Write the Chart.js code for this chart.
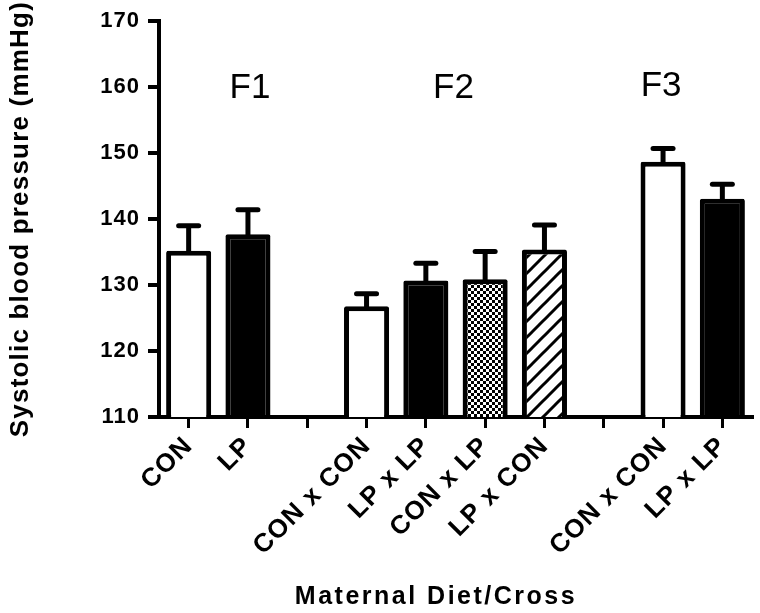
<!DOCTYPE html>
<html>
<head>
<meta charset="utf-8">
<script src="https://cdn.jsdelivr.net/npm/chart.js@4.4.1/dist/chart.umd.min.js"></script>
<style>
  html, body { margin: 0; padding: 0; background: #fff; }
  #wrap { width: 760px; height: 613px; }
</style>
</head>
<body>
<div id="wrap"><canvas id="bpChart" width="760" height="613"></canvas></div>
<script>
// categories (empty strings are the gaps between generations)
var labels = ['CON', 'LP', '', 'CON x CON', 'LP x LP', 'CON x LP', 'LP x CON', '', 'CON x CON', 'LP x LP'];
// mean systolic BP (mmHg) and SEM
var meanBP = [135.2, 137.7, null, 126.8, 130.7, 130.9, 135.4, null, 148.7, 143.1];
var semBP  = [3.8, 3.7, null, 1.9, 2.6, 4.2, 3.7, null, 2.0, 2.2];
var fills  = ['white', 'black', null, 'white', 'black', 'checker', 'hatch', null, 'white', 'black'];
var yTicks = [110, 120, 130, 140, 150, 160, 170];
var groupLabels = ['F1', 'F2', 'F3'];

var FONT = "'Liberation Sans', Arial, sans-serif";

function makeChecker() {
  var c = document.createElement('canvas');
  c.width = 6; c.height = 6;
  var g = c.getContext('2d');
  g.fillStyle = '#fff'; g.fillRect(0, 0, 6, 6);
  g.fillStyle = '#000';
  g.fillRect(0, 0, 3, 3);
  g.fillRect(3, 3, 3, 3);
  return g.createPattern(c, 'repeat');
}

function makeHatch() {
  var s = 16;
  var c = document.createElement('canvas');
  c.width = s; c.height = s;
  var g = c.getContext('2d');
  g.fillStyle = '#fff'; g.fillRect(0, 0, s, s);
  g.strokeStyle = '#000'; g.lineWidth = 3;
  [0, s, 2 * s].forEach(function(k) {
    g.beginPath();
    g.moveTo(-2, k + 2);
    g.lineTo(k + 2, -2);
    g.stroke();
  });
  return g.createPattern(c, 'repeat');
}

var patterns = { checker: makeChecker(), hatch: makeHatch() };
var barColors = fills.map(function(f) {
  if (f === null) return 'white';
  return patterns[f] || f;
});

var spacingPlugin = {
  id: 'spacing',
  beforeUpdate: function(chart) { chart.ctx.letterSpacing = '1px'; },
  beforeDraw: function(chart) { chart.ctx.letterSpacing = '1px'; }
};

var errorBars = {
  id: 'errorBars',
  afterDatasetsDraw: function(chart) {
    var ctx = chart.ctx;
    var meta = chart.getDatasetMeta(0);
    var y = chart.scales.y;
    ctx.save();
    ctx.strokeStyle = '#000';
    ctx.lineWidth = 5;
    meanBP.forEach(function(v, i) {
      if (v === null) return;
      var x = meta.data[i].x;
      var y0 = y.getPixelForValue(v);
      var y1 = y.getPixelForValue(v + semBP[i]);
      ctx.lineCap = 'butt';
      ctx.beginPath(); ctx.moveTo(x, y0 + 2); ctx.lineTo(x, y1); ctx.stroke();
      ctx.lineCap = 'round';
      ctx.beginPath(); ctx.moveTo(x - 10, y1); ctx.lineTo(x + 10, y1); ctx.stroke();
    });
    ctx.restore();
  }
};

var extraText = {
  id: 'extraText',
  afterDraw: function(chart) {
    var ctx = chart.ctx;
    var xs = chart.scales.x, ys = chart.scales.y;
    ctx.save();
    ctx.fillStyle = '#000';
    ctx.textAlign = 'center';
    ctx.textBaseline = 'alphabetic';
    // generation labels
    ctx.letterSpacing = '0px';
    ctx.font = 'normal 35px ' + FONT;
    var gx = [xs.getPixelForValue(1) + 2, (xs.getPixelForValue(4) + xs.getPixelForValue(5)) / 2 - 2, xs.getPixelForValue(8) - 2];
    groupLabels.forEach(function(t, i) {
      ctx.fillText(t, gx[i], ys.getPixelForValue(158.3) + (i === 2 ? -2 : 0));
    });
    // axis titles
    ctx.font = 'bold 25px ' + FONT;
    ctx.letterSpacing = '2.5px';
    ctx.fillText('Maternal Diet/Cross', 436, 604);
    ctx.font = 'bold 26px ' + FONT;
    ctx.letterSpacing = '1.2px';
    ctx.translate(28, (chart.chartArea.top + chart.chartArea.bottom) / 2);
    ctx.rotate(-Math.PI / 2);
    ctx.fillText('Systolic blood pressure (mmHg)', 0, 0);
    ctx.restore();
  }
};

var ctxBP = document.getElementById('bpChart').getContext('2d');
var bpChart = new Chart(ctxBP, {
  type: 'bar',
  data: {
    labels: labels,
    datasets: [{
      data: meanBP,
      backgroundColor: barColors,
      borderColor: '#000',
      borderWidth: 5,
      borderRadius: 2,
      barPercentage: 0.76,
      categoryPercentage: 1.0
    }]
  },
  options: {
    responsive: false,
    animation: false,
    layout: { padding: { top: 21, right: 8, left: 0, bottom: 0 } },
    plugins: { legend: { display: false }, tooltip: { enabled: false } },
    scales: {
      x: {
        offset: true,
        grid: { offset: false, drawOnChartArea: false, tickLength: 11, lineWidth: 3, color: '#000' },
        border: { display: true, width: 4, color: '#000' },
        ticks: {
          color: '#000',
          font: { family: FONT, size: 26, weight: 'bold' },
          maxRotation: 45, minRotation: 45,
          autoSkip: false,
          padding: 3
        },
        afterFit: function(scale) { scale.height = 196; }
      },
      y: {
        min: 110, max: 170,
        afterBuildTicks: function(scale) {
          scale.ticks = yTicks.map(function(v) { return { value: v }; });
        },
        grid: { drawOnChartArea: false, tickLength: 11, lineWidth: 4, color: '#000' },
        border: { display: true, width: 4, color: '#000' },
        ticks: {
          color: '#000',
          font: { family: FONT, size: 22, weight: 'bold' },
          padding: 8
        },
        afterFit: function(scale) { scale.width = 159; }
      }
    }
  },
  plugins: [spacingPlugin, errorBars, extraText]
});
</script>
</body>
</html>
